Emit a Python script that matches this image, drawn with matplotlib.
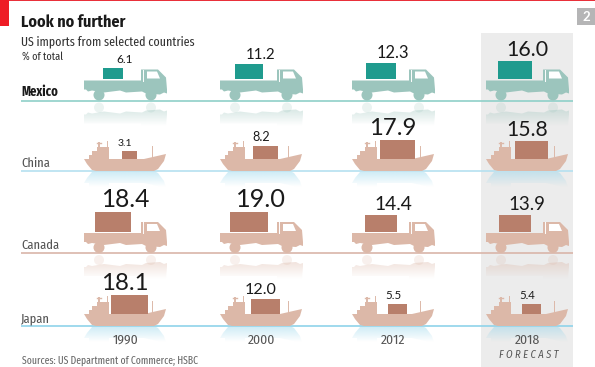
import numpy as np
import matplotlib
matplotlib.use("Agg")
import matplotlib.pyplot as plt
from matplotlib.patches import Polygon, Rectangle, Circle
from matplotlib.colors import to_rgb

plt.rcParams['font.family'] = ['Lato', 'DejaVu Sans']
narrow = ['Fira Sans Condensed', 'Lato']
xnarrow = ['Fira Sans Extra Condensed', 'Lato']

years = ['1990', '2000', '2012', '2018']
countries = ['Mexico', 'China', 'Canada', 'Japan']
vehicles = ['truck', 'ship', 'truck', 'ship']
mexico = [6.1, 11.2, 12.3, 16.0]
china = [3.1, 8.2, 17.9, 15.8]
canada = [18.4, 19.0, 14.4, 13.9]
japan = [18.1, 12.0, 5.5, 5.4]
values = [mexico, china, canada, japan]

# layout in pixels
W, H = 595, 367
col_left = [84, 220, 352, 486]
baselines = [100.5, 171, 253, 326]

teal_body = '#9cc5bd'
teal_box = '#1f9b8e'
pink_body = '#dcb8a8'
pink_box = '#b87f6b'
line_cols = ['#8fd0c8', '#b5e0f0', '#d9b5a9', '#8fd3ea']
dark = '#1a1a1a'
grey = '#555555'

# silhouettes, x from left edge, y up from the water/road line
truck_body = [(0, 20), (57, 20), (57, 31), (74, 31), (82, 23), (83, 11), (83, 7), (80, 8), (76, 6),
              (62, 7), (58, 9), (42, 8), (36, 10), (20, 8), (8, 10), (4, 9), (2, 11), (0, 11)]
truck_window = [(63, 29), (73, 29), (76, 22), (63, 22)]
ship_body = [(0, 12), (5, 12), (5, 16), (8, 16), (8, 20), (13, 20), (13, 24), (25, 24), (25, 12),
             (60, 12), (82, 17), (80, 10), (74, 2), (70, 0), (12, 0), (8, 1), (3, 7)]

fig = plt.figure(figsize=(W / 100, H / 100), dpi=100)
ax = fig.add_axes([0, 0, 1, 1])
ax.set_xlim(0, W)
ax.set_ylim(H, 0)
ax.axis('off')


def label_size(v):
    if v < 10:
        return 6.6 + 0.3 * v
    return 0.95 * v + 0.2


def fade(patch_xy, color, top, bottom, left, right, a0):
    col = to_rgb(color)
    n = 40
    img = np.zeros((n, 2, 4))
    img[..., 0], img[..., 1], img[..., 2] = col
    img[..., 3] = np.linspace(a0, 0, n)[:, None]
    im = ax.imshow(img, extent=[left, right, bottom, top], aspect='auto', zorder=2, interpolation='bilinear')
    clip = Polygon(patch_xy, closed=True, transform=ax.transData, fill=False, lw=0)
    ax.add_patch(clip)
    im.set_clip_path(clip)


def draw_truck(x0, y0, v, body):
    pts = [(x0 + a, y0 - b) for a, b in truck_body]
    ax.add_patch(Polygon(pts, closed=True, fc=body, ec='none', zorder=3))
    ax.plot([x0 + 58.5, x0 + 58.5], [y0 - 31, y0 - 20], color='white', lw=0.7, zorder=4)
    ax.add_patch(Polygon([(x0 + a, y0 - b) for a, b in truck_window], closed=True, fc='white', ec='none', zorder=4))
    wheels = [15, 67]
    for w in wheels:
        ax.add_patch(Circle((x0 + w, y0 - 5.5), 5.5, fc=body, ec='none', zorder=3))
    # road reflection
    refl = [(x0 + a, y0 + 3 + b) for a, b in truck_body]
    fade(refl, body, y0 + 2, y0 + 26, x0, x0 + 84, 0.55)
    for w in wheels:
        ax.add_patch(Circle((x0 + w, y0 + 7), 5, fc=body, ec='none', alpha=0.2, zorder=2))
    w = np.sqrt(38 * 1.9 * v)
    h = w / 1.9
    ax.add_patch(Rectangle((x0 + 29 - w / 2, y0 - 21.5 - h), w, h, fc=teal_box if body == teal_body else pink_box,
                           ec='none', zorder=4))
    return y0 - 21.5 - h


def draw_ship(x0, y0, v):
    pts = [(x0 + a, y0 - b) for a, b in ship_body]
    ax.add_patch(Polygon(pts, closed=True, fc=pink_body, ec='none', zorder=3))
    ax.plot([x0 + 15, x0 + 15], [y0 - 28, y0 - 20], color=pink_body, lw=1.4, zorder=3)
    ax.plot([x0 + 13, x0 + 17], [y0 - 28, y0 - 28], color=pink_body, lw=1, zorder=3)
    ax.plot([x0 + 23, x0 + 23], [y0 - 30, y0 - 20], color=pink_body, lw=0.7, zorder=3)
    ax.plot([x0 + 68, x0 + 68], [y0 - 25, y0 - 13], color=pink_body, lw=0.7, zorder=3)
    refl = [(x0 + a, y0 + b) for a, b in ship_body]
    fade(refl, '#8fd3ea', y0 + 1, y0 + 16, x0, x0 + 84, 0.42)
    w = np.sqrt(38 * 1.9 * v)
    h = w / 1.9
    ax.add_patch(Rectangle((x0 + 45.5 - w / 2, y0 - 12 - h), w, h, fc=pink_box, ec='none', zorder=4))
    return y0 - 12 - h


# header furniture
ax.add_patch(Rectangle((0, 0), W, 1.2, fc='#e9303a', ec='none', zorder=5))
ax.add_patch(Rectangle((0, 0), 9, 26, fc='#ee1c25', ec='none', zorder=5))
ax.add_patch(Rectangle((577, 8), 18, 17, fc='#b5b5b6', ec='none', zorder=5))
ax.text(586, 17, '2', color='white', fontsize=9.5, fontweight='bold', ha='center', va='center', zorder=6)
ax.add_patch(Rectangle((481, 33), 92, H - 33, fc='#ececec', ec='none', zorder=0))

ax.text(21, 27, 'Look no further', fontsize=11.5, fontweight='bold', color=dark, family=narrow)
ax.text(21, 45, 'US imports from selected countries', fontsize=9.3, color='#333333', family=xnarrow)
ax.text(22, 60, '% of total', fontsize=8, color='#333333', family=xnarrow)

for i, name in enumerate(countries):
    y0 = baselines[i]
    ax.plot([21, 573], [y0, y0], color=line_cols[i], lw=1.2, zorder=1, solid_capstyle='butt')
    ax.text(21, y0 - 4, name, fontsize=9.8, color=dark if i == 0 else grey,
            fontweight='bold' if i == 0 else 'normal', family=xnarrow)
    for j, v in enumerate(values[i]):
        x0 = col_left[j]
        if vehicles[i] == 'truck':
            top = draw_truck(x0, y0, v, teal_body if i == 0 else pink_body)
        else:
            top = draw_ship(x0, y0, v)
        ax.text(x0 + 41, top - 5, f'{v:.1f}', fontsize=label_size(v), color=dark, ha='center', va='baseline',
                zorder=6)

for j, yr in enumerate(years):
    ax.text(col_left[j] + 41.5, 344, yr, fontsize=9.8, color=grey, ha='center', family=narrow)
ax.text(529, 358, 'F O R E C A S T', fontsize=7.6, color=grey, style='italic', ha='center', family=narrow)
ax.text(22, 364, 'Sources: US Department of Commerce; HSBC', fontsize=7.6, color='#666666', family=xnarrow)

ax.set_xlim(0, W)
ax.set_ylim(H, 0)
fig.savefig('out.png', dpi=100)
